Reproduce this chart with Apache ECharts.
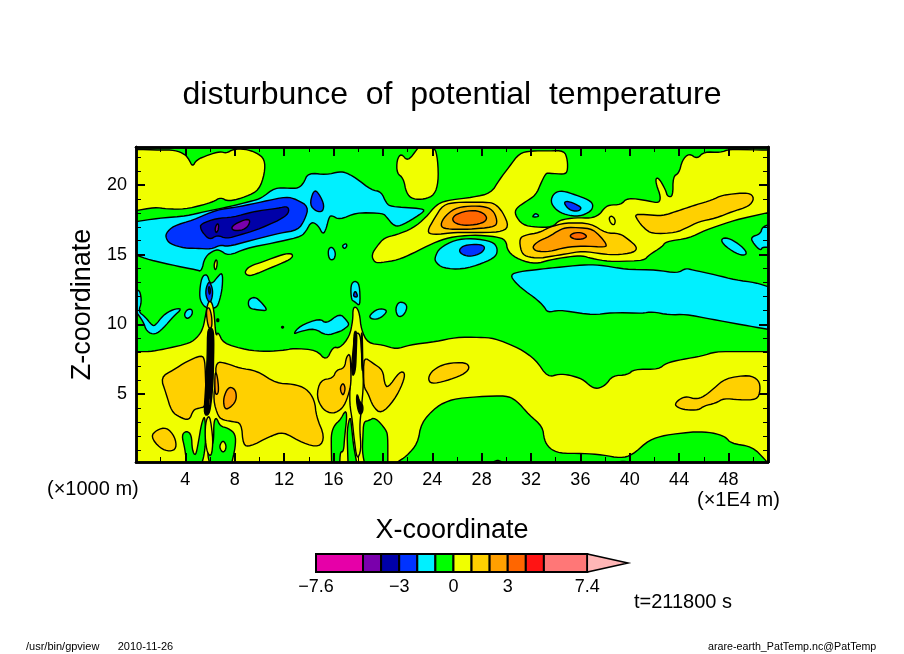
<!DOCTYPE html>
<html>
<head>
<meta charset="utf-8">
<title>disturbunce of potential temperature</title>
<script src="https://cdn.jsdelivr.net/npm/echarts@6/dist/echarts.min.js"></script>
<style>
html, body { margin: 0; padding: 0; background: #fff; }
#main { width: 904px; height: 654px; }
</style>
</head>
<body>
<div id="main"></div>
<script>
// axis ticks (x in 1E4 m, z in 1000 m)
var xMajorTicks = [4, 8, 12, 16, 20, 24, 28, 32, 36, 40, 44, 48];
var xMinorTicks = [2, 6, 10, 14, 18, 22, 26, 30, 34, 38, 42, 46, 50];
var zMajorTicks = [5, 10, 15, 20];
var zMinorTicks = [1, 2, 3, 4, 6, 7, 8, 9, 11, 12, 13, 14, 16, 17, 18, 19, 21, 22];
var colorbarTicks = [-7.6, -3, 0, 3, 7.4];

// colour bar: contour levels and the value where the arrow ends
var bandLevels = [-7.6, -5, -4, -3, -2, -1, 0, 1, 2, 3, 4, 5, 7.4];
var bandColors = ['#e600a8', '#7a00ac', '#0000a8', '#0033ff', '#00f0ff', '#00ff00', '#f0ff00', '#ffd000', '#ff9f00', '#ff6600', '#ff1414', '#ff7777'];
var arrowEnd = 9.65;
var arrowColor = '#ffb6b6';

// contour outlines, [x, z] pairs, one list per band
// band -2..-1
var cyanAreas = [
	[[0,17.37],[1.81,17.61],[4.1,17.78],[5.58,18.09],[7.6,18.45],[9.22,18.81],[10.16,19.04],[11.24,19.81],[12.45,19.76],[13.13,19.76],[13.58,20.12],[13.94,20.88],[15.42,20.72],[16.5,20.96],[17.04,20.88],[17.84,20.48],[19.06,19.64],[19.87,19.52],[20.27,18.69],[20.67,18.45],[23.5,18.28],[22.97,17.85],[21.62,17.13],[20.94,17.01],[20.27,17.73],[20,17.97],[17.84,18.02],[16.5,17.49],[15.82,17.85],[15.61,17.61],[15.42,16.89],[15.15,16.42],[14.74,17.13],[14.2,17.37],[13.8,16.73],[13.4,16.3],[11.64,15.94],[8.95,15.46],[7.47,14.91],[6.79,15.34],[6.39,15.34],[5.58,14.86],[5.31,13.79],[4.91,13.91],[3.29,14.19],[1.13,14.62],[0,14.98]],
	[[24.23,14.86],[24.58,15.46],[25.8,16.06],[27.28,16.18],[28.9,15.94],[29.3,15.46],[29.17,14.86],[28.09,14.38],[26.47,13.95],[24.85,14.03],[24.23,14.5]],
	[[32.13,17.75],[32.35,17.97],[32.6,17.85],[32.6,17.72],[32.2,17.7]],
	[[33.56,18.81],[33.88,19.45],[34.56,19.59],[35.63,19.28],[36.71,18.92],[37.06,18.57],[36.85,18.09],[35.9,17.73],[34.82,17.85],[34.02,18.21]],
	[[47.36,16.06],[47.76,16.25],[48.57,15.94],[49.38,15.34],[49.46,14.98],[48.84,14.98],[47.76,15.58]],
	[[51.2,17.13],[50.73,16.97],[50.59,16.49],[49.78,16.25],[50.05,15.77],[50.59,15.29],[50.73,15.53],[51.2,15.53]],
	[[30.3,13.55],[31.05,13.79],[32.67,13.95],[33.48,14.03],[36.17,14.27],[37.52,14.27],[39.68,13.95],[42.11,13.91],[43.86,13.67],[44.53,14.03],[45.07,13.91],[46.95,13.55],[48.57,13.19],[50.19,13],[51.2,12.71],[51.2,9.65],[49.65,9.89],[46.68,10.37],[44.53,10.73],[43.18,10.68],[41.83,10.92],[41.02,10.8],[38.6,10.85],[36.98,10.68],[34.29,11.04],[33.34,10.85],[33.07,11.28],[32.4,11.85],[31.59,12.35],[30.78,12.95]],
	[[0,12.47],[0.32,12.42],[0.46,11.6],[0.19,10.92],[0.73,10.56],[1.27,9.96],[1.54,9.89],[2.21,10.68],[3.02,11.09],[3.75,11.16],[3.02,10.56],[2.21,9.73],[1.54,9.25],[0.86,9.49],[0.59,10.2],[0,10.92]],
	[[3.88,10.68],[4.15,11.09],[4.56,11.09],[4.56,10.68],[4.15,10.37]],
	[[16.68,15.63],[17,15.82],[17.11,15.63],[16.9,15.41]],
	[[15.55,15.34],[15.82,15.58],[16.09,15.34],[16.17,14.98],[16.01,14.62],[15.63,14.67]],
	[[9.08,11.76],[9.62,12],[10.16,11.59],[10.7,10.97],[9.89,11.04],[9.14,11.16]],
	[[12.72,9.29],[13.26,9.89],[14.88,10.44],[15.42,10.04],[16.5,10.8],[17.04,10.32],[17.3,9.96],[16.76,9.61],[16.5,9.49],[15.42,9.18],[14.47,9.73],[13.26,9.49]],
	[[18.79,10.56],[19.6,11.16],[20.4,11.04],[20,10.56],[19.33,10.32]],
	[[21,11.16],[21.35,11.68],[22.02,11.4],[21.75,10.68],[21.21,10.51]],
	[[5.12,12.11],[5.31,13.43],[5.77,13.62],[5.98,12.95],[6.25,13],[6.52,13.31],[7.01,13.79],[7.01,12.71],[6.79,11.76],[6.52,11.16],[5.71,11.16],[5.31,11.52]],
	[[17.39,12.83],[17.71,13.14],[18.11,12.9],[18.17,11.28],[17.71,11.64],[17.44,11.76]],
	[[17.44,3.2],[17.56,3.45],[17.7,3],[17.56,2.8]],
	[[5.4,0.29],[5.77,0.41],[6.12,0.12],[5.4,0.12]],
	[[18,0.17],[18.4,0.4],[18.65,0.17]]
];
// band -3..-2
var blueAreas = [
	[[2.43,16.54],[3.02,17.06],[4.64,17.49],[6.52,18.21],[8.41,18.45],[10.3,18.81],[12.18,19.16],[12.99,18.97],[13.99,18.45],[13.67,17.49],[13.13,16.77],[11.64,16.54],[8.95,15.94],[7.47,15.58],[6.79,15.7],[6.12,15.39],[4.91,15.46],[3.96,15.46],[2.75,15.77],[2.43,16.18]],
	[[14.07,18.57],[14.34,19.52],[14.66,19.59],[15.23,18.69],[15.15,18.09],[14.61,18.09]],
	[[26.14,15.29],[26.47,15.63],[27.28,15.75],[28.09,15.7],[28.28,15.46],[27.95,15.1],[27.15,14.86],[26.47,14.98]],
	[[34.64,18.73],[34.96,18.85],[35.77,18.57],[36.12,18.33],[35.77,18.09],[35.09,18.21]],
	[[5.66,12.59],[5.93,13.14],[6.2,12.59],[6.2,12],[5.98,11.47],[5.66,12]],
	[[17.57,12],[17.76,12.47],[18,11.95]]
];
// band -4..-3
var navyAreas = [
	[[5.23,17.2],[6.52,17.61],[7.87,17.68],[9.49,18.09],[11.51,18.33],[12.32,18.49],[12.4,17.97],[11.64,17.49],[9.76,16.77],[8.41,16.42],[7.33,16.13],[6.58,16.42],[5.98,16.06],[5.44,16.54],[5.23,16.89]],
	[[5.85,12.6],[5.95,12.75],[6.05,12.4],[5.95,12.1]]
];
// band -5..-4
var purpleAreas = [
	[[7.74,17.06],[8.81,17.54],[9.27,17.49],[9.08,17.01],[8.54,16.73],[7.82,16.73]],
	[[6.39,16.89],[6.58,17.25],[6.71,17.13],[6.66,16.73],[6.47,16.54]]
];
// band 0..1
var yellowAreas = [
	[[0,22.56],[1.94,22.5],[3.15,22.5],[3.96,22.2],[4.31,21.8],[4.58,21.3],[4.9,21.8],[5.85,22.15],[6.8,22.4],[7.33,22.27],[7.87,22.56],[8.81,22.58],[9.76,22.32],[10.43,21.84],[10.43,20.84],[9.97,19.64],[8.95,19.16],[7.47,18.8],[6.87,19.12],[6.25,18.8],[5.44,18.57],[3.96,18.26],[2.48,18.28],[1.54,18.4],[0,18.16]],
	[[8.81,13.79],[9.22,14.19],[10.3,14.5],[11.91,15.03],[12.59,15.1],[12.72,14.86],[12.32,14.58],[10.84,14.03],[9.35,13.48],[8.95,13.55]],
	[[21.13,20.84],[21.13,21.79],[21.48,22.27],[22.02,21.67],[22.83,22.63],[22.97,22.8],[24.18,22.8],[24.45,21.79],[24.5,20.24],[24.18,19.28],[23.37,18.97],[22.43,18.97],[21.9,19.4],[21.67,20.48]],
	[[19.06,14.98],[19.6,15.7],[20.13,16.22],[21.08,16.42],[22.43,16.89],[23.5,17.68],[24.31,18.57],[25.12,18.88],[27.28,19.12],[28.76,19.4],[29.43,20.36],[30.24,21.31],[31.05,22.27],[32,22.44],[33.48,22.44],[34.69,22.46],[34.96,21.79],[34.96,20.96],[34.69,20.76],[33.48,20.84],[33.2,20.84],[32.8,20.12],[32.4,19.28],[31.59,18.81],[30.78,18.33],[30.7,17.85],[31.32,17.13],[32.4,16.97],[33.75,16.97],[34.29,17.49],[35.63,17.66],[36.85,17.61],[37.52,17.85],[37.93,18.33],[38.33,18.57],[39.27,18.57],[39.82,19.09],[41.56,18.85],[42.37,18.69],[42.51,19.16],[42.16,20],[42.1,20.48],[42.37,20.48],[42.91,19.64],[43.05,19.16],[43.5,19.16],[43.5,20.6],[43.99,20.84],[44.26,21.79],[44.8,22.27],[45.47,21.86],[46.01,22.39],[47.36,22.32],[48.04,22.56],[51,22.5],[51.2,22.5],[51.2,18.02],[48.57,17.49],[46.14,16.77],[44.8,16.18],[42.91,15.94],[42.64,15.58],[41.56,14.98],[41.16,14.58],[38.33,14.5],[36.85,14.74],[36.17,14.93],[35.09,14.86],[33.48,14.62],[32.4,14.34],[31.05,14.62],[30.11,15.22],[29.97,16.06],[29.17,16.3],[27.28,16.42],[25.39,16.25],[24.04,15.82],[22.43,15.1],[21.21,14.62],[19.87,14.43],[19.33,14.43]],
	[[38.3,17.65],[38.55,17.8],[38.85,17.5],[38.75,17.1],[38.45,17.25]],
	[[6.31,14.27],[6.47,14.67],[6.6,14.5],[6.52,14],[6.39,13.9]],
	[[0,8.05],[1.13,8.05],[2.21,8.22],[4.37,8.65],[5.04,9.13],[5.44,9.73],[5.66,10.8],[5.85,11.64],[6.12,11.64],[6.31,11.04],[6.47,9.13],[6.66,9.49],[7.06,8.65],[8.95,8.17],[10.57,8.05],[12.18,8.17],[12.72,8.29],[14.61,8.17],[15.42,7.38],[15.96,8.41],[16.5,8.29],[17.3,9.13],[17.57,10.32],[17.57,11.16],[17.84,11.28],[18.11,10.8],[18.25,9.61],[18.79,8.65],[20,8.53],[21.08,8.22],[22.16,8.53],[24.31,8.77],[25.93,9.08],[27.82,9.08],[29.03,9.01],[31.05,8.29],[32.4,7.46],[33.34,6.21],[34.29,6.45],[35.09,6.38],[36.17,6.09],[36.85,5.54],[37.39,5.38],[38.06,5.66],[38.6,6.33],[39.82,6.38],[40.35,6.79],[42.37,6.79],[42.91,7.22],[44.26,7.5],[45.87,7.74],[46.95,8.05],[51.2,8.05],[51.2,0],[0,0]]
];
// band -1..0, patches lying on the lower yellow area
var greenAreas = [
	[[21.13,0],[21.13,0.12],[21.89,0.53],[22.83,1.48],[23.1,2.92],[24.31,4.11],[25.66,4.66],[27.82,4.83],[29.97,4.9],[30.78,4.59],[31.86,3.51],[32.94,2.68],[33.07,1.72],[33.48,1.12],[34.29,0.76],[36.17,0.76],[37.79,0.65],[39.27,0.41],[40.22,0.65],[41.56,1.72],[42.91,2.08],[45.34,2.32],[46.68,2.25],[47.76,1.96],[48.17,1.48],[49.92,1.24],[51,0.29],[51.2,0]],
	[[3.69,2.08],[4.1,2.39],[4.5,2.08],[4.55,1],[4.82,0.53],[5.04,1.48],[5.31,2.92],[5.58,3.51],[5.66,1.72],[5.5,0.53],[5.31,0],[4.1,0],[3.96,1.12]],
	[[6.3,1.72],[6.3,3.03],[6.52,3.35],[6.79,2.72],[7.47,2.56],[8.06,2.15],[8.06,1.24],[7.74,0],[5.98,0],[5.77,0.76],[6.12,1.24]],
	[[15.82,2.2],[16.09,2.8],[16.55,3.15],[16.98,3.87],[17.09,3.39],[16.9,1.96],[16.82,0.88],[16.55,0.88],[16.5,0],[15.85,0],[15.82,1.24]],
	[[17.18,0],[17.09,2.44],[17.36,3.51],[17.49,2.44],[17.63,1.24],[17.9,0]],
	[[18.44,3.03],[18.84,3.11],[19.37,3.35],[20.27,2.44],[20.4,1.96],[20.4,0.29],[20.4,0],[18.52,0],[18.33,0.88],[18.38,1.96]]
];
// yellow spots and plume columns inside those green patches
var yellowSpots = [
	[[6.74,1.29],[7.06,1.72],[7.33,1.31],[7.2,0.88],[6.93,0.88]],
	[[28.9,0],[28.9,0.12],[29.3,0.29],[29.7,0.12],[29.7,0]],
	[[38.87,0],[38.87,0.12],[39.4,0.2],[40.35,0.12],[40.35,0]],
	[[5.66,3.15],[5.98,3.51],[6.25,1.72],[6.12,0.53],[5.77,0.76],[5.58,1.96]],
	[[17.3,4.35],[17.36,6.26],[17.57,7.93],[17.71,9.37],[18.17,9.37],[18.3,7.69],[18.44,5.78],[18.25,3.87],[18.11,2.68],[18.25,1],[17.9,0.29],[17.65,1.96],[17.52,3.15]]
];
// band 1..2
var goldAreas = [
	[[23.56,16.65],[24.18,17.61],[24.86,18.57],[25.93,18.76],[28.36,18.76],[29.03,18.69],[29.7,18.09],[30.24,16.97],[29.43,16.61],[27.28,16.58],[25.93,16.61],[24.04,16.42]],
	[[31.05,16.18],[31.59,16.42],[32.67,16.58],[33.48,16.97],[34.82,17.3],[36.85,17.25],[38.06,16.54],[39.16,16.54],[39.95,16.06],[40.62,15.53],[40.35,15.15],[38.87,14.98],[37.79,15.05],[36.17,15.27],[34.82,15.05],[33.48,14.86],[32.67,14.74],[31.59,14.86],[31.19,15.22]],
	[[40.4,17.92],[41.56,17.85],[42.64,17.78],[43.72,18.09],[44.53,18.33],[45.34,18.57],[46.68,18.92],[47.49,19.28],[49.65,19.47],[50.11,19.04],[49.65,18.45],[48.3,18.09],[46.95,17.61],[45.6,17.37],[44.53,16.89],[43.72,16.58],[41.83,16.49],[41.16,16.89],[40.62,17.49]],
	[[1.99,6.21],[3.02,6.74],[4.1,7.34],[5.31,7.81],[5.58,7.46],[5.66,5.42],[5.66,4.11],[5.04,3.99],[4.64,3.87],[4.31,3.11],[3.55,3.35],[2.88,3.75],[2.43,5.07]],
	[[6.47,7.34],[7.33,7.22],[8.41,6.86],[9.76,6.69],[11.38,5.78],[12.72,5.73],[13.8,5.42],[14.47,4.59],[14.61,3.39],[15.28,1.96],[14.88,1.19],[13.53,1.48],[11.91,2.32],[10.84,1.96],[9.22,1.24],[8.68,1.36],[8.54,2.92],[7.87,3.03],[7.06,3.15],[6.66,3.39],[6.25,4.59],[6.47,6.02]],
	[[1.19,1.96],[1.67,2.44],[2.48,2.63],[3.15,1.96],[3.29,1.12],[2.75,0.88],[1.94,1.12]],
	[[14.61,4.83],[14.93,6.02],[15.96,6.14],[16.23,6.74],[16.9,6.86],[17.04,7.69],[17.36,7.93],[17.44,5.78],[17.17,4.83],[16.76,3.99],[15.96,3.58],[15.15,3.87]],
	[[18.44,7.69],[19.2,7.22],[20,6.74],[20.13,5.78],[20.4,5.42],[21.35,6.62],[21.81,6.55],[21.62,5.78],[20.94,4.59],[19.87,3.58],[19.2,4.11],[18.79,5.07],[18.44,5.54]],
	[[23.64,6.14],[24.04,6.74],[25.12,7.22],[26.74,7.29],[27.06,6.86],[26.47,6.38],[25.12,5.95],[23.91,5.73]],
	[[43.64,4.3],[44.12,4.71],[44.66,4.83],[45.34,4.64],[46.01,4.83],[46.82,5.42],[47.76,6.14],[49.65,6.38],[50.46,6.02],[50.59,5.3],[50.32,4.59],[48.84,4.59],[47.63,4.71],[46.95,4.35],[46.01,4.16],[45.6,3.87],[44.53,3.87],[43.86,4.06]]
];
// band 2..3
var amberAreas = [
	[[24.66,16.97],[24.86,17.61],[25.8,18.33],[27,18.5],[28.36,18.45],[29.03,18.09],[29.3,17.25],[28.9,16.97],[27,16.82],[25.39,16.82]],
	[[32.13,15.58],[32.54,15.94],[33.48,16.3],[34.29,16.77],[34.96,16.97],[36.85,16.89],[37.52,16.42],[38.11,15.77],[38.06,15.53],[36.17,15.63],[34.82,15.53],[33.48,15.22],[32.67,15.22],[32.27,15.34]],
	[[7.06,4.59],[7.33,5.3],[7.68,5.54],[8.09,5.26],[8.14,4.59],[7.74,4.11],[7.2,3.87]],
	[[16.5,5.42],[16.77,5.83],[16.98,5.42],[16.77,4.83]],
	[[5.66,11.04],[5.93,11.28],[6.15,10.56],[6.15,9.73],[5.85,9.73]],
	[[6.39,6.62],[6.58,6.38],[6.71,5.3],[6.58,4.95],[6.39,5.07]]
];
// band 3..4
var orangeAreas = [
	[[25.58,17.54],[25.93,17.92],[27.15,18.21],[28.09,18.04],[28.49,17.61],[28.09,17.25],[26.87,17.08],[25.93,17.2]],
	[[35.09,16.34],[35.5,16.58],[36.17,16.58],[36.58,16.3],[36.17,16.11],[35.5,16.11]]
];
// tightly packed contours in the two plumes, they merge to solid black
var denseAreas = [
	[[5.8,9.73],[6.25,9.73],[6.31,8.77],[6.25,6.02],[6.12,4.59],[5.93,3.51],[5.5,3.51],[5.66,5.78],[5.77,7.69]],
	[[6.55,10.2],[6.7,10.2],[6.7,10.4],[6.55,10.4]],
	[[11.8,9.75],[11.95,9.75],[11.95,9.85],[11.8,9.85]],
	[[17.66,9.49],[17.9,9.49],[17.85,8.17],[17.79,6.74],[17.57,6.26],[17.52,6.74],[17.63,7.93]],
	[[17.92,5.07],[18.11,4.47],[18.38,4.23],[18.38,3.75],[18.17,3.51],[17.98,3.87],[17.85,4.59]],
	[[18.25,9.37],[18.33,9.37],[18.38,6.74],[18.3,6.74]]
];
// amber streak showing through the first plume
var plumeStreaks = [
	[[5.93,4.83],[6.07,4.83],[5.98,4.11],[5.85,4.11]]
];

var xMin = 0, xMax = 51.2, zMin = 0.14, zMax = 22.72;

// paint order: low bands first, then each nested band above it
var layers = [
	[cyanAreas, 4], [blueAreas, 3], [navyAreas, 2], [purpleAreas, 1],
	[yellowAreas, 6], [greenAreas, 5], [yellowSpots, 6],
	[goldAreas, 7], [amberAreas, 8], [orangeAreas, 9]
];
var contourShapes = [];
layers.forEach(function(layer) {
	layer[0].forEach(function(points) {
		contourShapes.push({ points: points, fill: bandColors[layer[1]], line: '#000' });
	});
});
denseAreas.forEach(function(points) {
	contourShapes.push({ points: points, fill: '#000', line: '#000' });
});
plumeStreaks.forEach(function(points) {
	contourShapes.push({ points: points, fill: bandColors[8], line: '#000' });
});

// vertices on the plot edge must stay there
function onEdge(p) {
	return p[0] <= xMin || p[0] >= xMax || p[1] <= 0;
}

// round the outline on screen by cutting its corners, pairs are [screen point, keep]
function roundOutline(pairs) {
	var out = [];
	pairs.forEach(function(cur, i) {
		var next = pairs[(i + 1) % pairs.length];
		var prev = pairs[(i - 1 + pairs.length) % pairs.length];
		if (cur[1]) {
			out.push(cur);
			return;
		}
		out.push([cutPoint(cur[0], prev[0]), false]);
		out.push([cutPoint(cur[0], next[0]), false]);
	});
	return out;
}

function cutPoint(from, to) {
	var dx = to[0] - from[0], dy = to[1] - from[1];
	var len = Math.sqrt(dx * dx + dy * dy) || 1;
	var cut = Math.min(0.25, 5 / len);
	return [from[0] + dx * cut, from[1] + dy * cut];
}

function renderContour(params, api) {
	var item = contourShapes[params.dataIndex];
	var pairs = item.points.map(function(p) { return [api.coord(p), onEdge(p)]; });
	pairs = roundOutline(roundOutline(pairs));
	return {
		type: 'polygon',
		shape: { points: pairs.map(function(p) { return p[0]; }) },
		style: { fill: item.fill, stroke: item.line, lineWidth: 1.4 }
	};
}

function renderBand(params, api) {
	var from = api.coord([api.value(0), 0]);
	var to = api.coord([api.value(1), 1]);
	return {
		type: 'rect',
		shape: { x: from[0], y: to[1], width: to[0] - from[0], height: from[1] - to[1] },
		style: { fill: bandColors[params.dataIndex], stroke: '#000', lineWidth: 2 }
	};
}

function renderArrow(params, api) {
	return {
		type: 'polygon',
		shape: {
			points: [api.coord([api.value(0), 0]), api.coord([api.value(0), 1]), api.coord([api.value(1), 0.5])]
		},
		style: { fill: arrowColor, stroke: '#000', lineWidth: 1.5 }
	};
}

var labelFont = { color: '#000', fontFamily: 'Liberation Sans', fontSize: 18 };

// one axis of the frame, majors carry the long ticks
function frameAxis(min, max, position, ticks, tickLength, tickWidth, labelled, extra) {
	var axis = {
		type: 'value',
		gridIndex: 0,
		min: min,
		max: max,
		position: position,
		z: 5,
		axisLine: { show: true, onZero: false, lineStyle: { color: '#000', width: 2.5 } },
		axisTick: { show: true, inside: true, length: tickLength, customValues: ticks, lineStyle: { color: '#000', width: tickWidth } },
		axisLabel: { show: labelled, customValues: ticks, margin: 9, color: labelFont.color, fontFamily: labelFont.fontFamily, fontSize: labelFont.fontSize },
		splitLine: { show: false }
	};
	return Object.assign(axis, extra || {});
}

var nameFont = { color: '#000', fontFamily: 'Liberation Sans', fontSize: 27 };

function textItem(text, x, y, size) {
	return {
		type: 'text',
		left: x,
		top: y - size / 2 - 1,
		silent: true,
		style: { text: text, fill: '#000', font: size + 'px "Liberation Sans"' }
	};
}

var bandPairs = bandLevels.slice(0, -1).map(function(level, i) {
	return [level, bandLevels[i + 1]];
});

var myChart = echarts.init(document.getElementById('main'));

var option = {
	animation: false,
	backgroundColor: '#fff',
	title: {
		text: 'disturbunce  of  potential  temperature',
		left: 'center',
		top: 74,
		textStyle: { color: '#000', fontFamily: 'Liberation Sans', fontWeight: 'normal', fontSize: 32 }
	},
	grid: [
		{ left: 136, right: 136, top: 147, bottom: 192, show: true, backgroundColor: bandColors[5], borderWidth: 0 },
		{ left: 316, right: 276, top: 554, height: 18 }
	],
	xAxis: [
		frameAxis(xMin, xMax, 'bottom', xMajorTicks, 9, 2, true, {
			name: 'X-coordinate', nameLocation: 'middle', nameGap: 55,
			nameTextStyle: nameFont
		}),
		frameAxis(xMin, xMax, 'bottom', xMinorTicks, 5, 1, false),
		frameAxis(xMin, xMax, 'top', xMajorTicks, 9, 2, false),
		frameAxis(xMin, xMax, 'top', xMinorTicks, 5, 1, false),
		{
			type: 'value',
			gridIndex: 1,
			min: bandLevels[0],
			max: arrowEnd,
			axisLine: { show: false },
			axisTick: { show: false },
			splitLine: { show: false },
			axisLabel: {
				customValues: colorbarTicks,
				margin: 6,
				color: '#000',
				fontFamily: 'Liberation Sans',
				fontSize: 18,
				formatter: function(v) { return String(v).replace('-', '\u2212'); }
			}
		}
	],
	yAxis: [
		frameAxis(zMin, zMax, 'left', zMajorTicks, 9, 2, true, {
			name: 'Z-coordinate', nameLocation: 'middle', nameGap: 36, nameRotate: 90,
			nameTextStyle: nameFont
		}),
		frameAxis(zMin, zMax, 'left', zMinorTicks, 5, 1, false),
		frameAxis(zMin, zMax, 'right', zMajorTicks, 9, 2, false),
		frameAxis(zMin, zMax, 'right', zMinorTicks, 5, 1, false),
		{ type: 'value', gridIndex: 1, min: 0, max: 1, show: false }
	],
	series: [
		{
			type: 'custom',
			xAxisIndex: 0,
			yAxisIndex: 0,
			clip: true,
			silent: true,
			renderItem: renderContour,
			data: contourShapes.map(function(s) { return s.points[0]; })
		},
		{
			type: 'custom',
			xAxisIndex: 4,
			yAxisIndex: 4,
			silent: true,
			renderItem: renderBand,
			encode: { x: [0, 1] },
			data: bandPairs
		},
		{
			type: 'custom',
			xAxisIndex: 4,
			yAxisIndex: 4,
			silent: true,
			renderItem: renderArrow,
			encode: { x: [0, 1] },
			data: [[bandLevels[bandLevels.length - 1], arrowEnd]]
		}
	],
	graphic: [
		textItem('(\u00d71000 m)', 47, 490, 20),
		textItem('(\u00d71E4 m)', 697, 501, 20),
		textItem('t=211800 s', 634, 603, 20),
		textItem('/usr/bin/gpview      2010-11-26', 26, 648, 11),
		textItem('arare-earth_PatTemp.nc@PatTemp', 708, 648, 10.7)
	]
};
myChart.setOption(option);
</script>
</body>
</html>
